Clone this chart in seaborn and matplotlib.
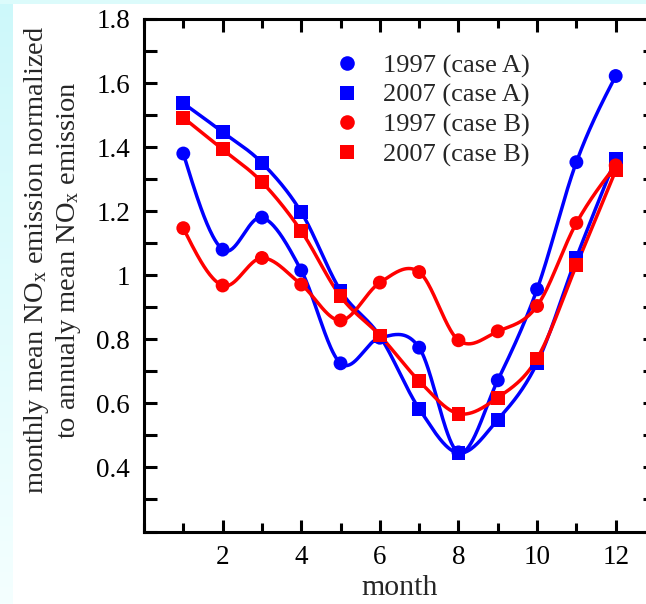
import numpy as np
import pandas as pd
import matplotlib
matplotlib.use("Agg")
import matplotlib.pyplot as plt
from matplotlib.lines import Line2D
from matplotlib.ticker import MultipleLocator
from matplotlib.colors import LinearSegmentedColormap
import seaborn as sns

# ---------------- data ----------------
months = [1, 2, 3, 4, 5, 6, 7, 8, 9, 10, 11, 12]
a1997 = [1.38, 1.08, 1.18, 1.015, 0.725, 0.805, 0.774, 0.447, 0.672, 0.956, 1.353, 1.622]
a2007 = [1.537, 1.447, 1.351, 1.197, 0.952, 0.81, 0.583, 0.445, 0.549, 0.726, 1.055, 1.364]
b1997 = [1.147, 0.968, 1.054, 0.971, 0.859, 0.977, 1.010, 0.797, 0.825, 0.904, 1.163, 1.343]
b2007 = [1.492, 1.393, 1.291, 1.138, 0.934, 0.812, 0.670, 0.568, 0.618, 0.740, 1.031, 1.327]
labels = ["1997 (case A)", "2007 (case A)", "1997 (case B)", "2007 (case B)"]
xtick_vals = [2, 4, 6, 8, 10, 12]
xtick_labels = ["2", "4", "6", "8", "10", "12"]
ytick_vals = [0.4, 0.6, 0.8, 1.0, 1.2, 1.4, 1.6, 1.8]
ytick_labels = ["0.4", "0.6", "0.8", "1", "1.2", "1.4", "1.6", "1.8"]


def smooth_curve(x, y, per=40):
    """Cubic Hermite (Catmull-Rom) curve through the data points."""
    x = np.asarray(x, float)
    y = np.asarray(y, float)
    n = len(x)
    m = np.zeros(n)
    for i in range(1, n - 1):
        m[i] = (y[i + 1] - y[i - 1]) / (x[i + 1] - x[i - 1])
    m[0] = 1.5 * (y[1] - y[0]) / (x[1] - x[0]) - 0.5 * m[1]
    m[-1] = 1.5 * (y[-1] - y[-2]) / (x[-1] - x[-2]) - 0.5 * m[-2]
    xs_all, ys_all = [], []
    for i in range(n - 1):
        h = x[i + 1] - x[i]
        t = np.linspace(0, 1, per, endpoint=(i == n - 2))
        h00 = 2 * t ** 3 - 3 * t ** 2 + 1
        h10 = t ** 3 - 2 * t ** 2 + t
        h01 = -2 * t ** 3 + 3 * t ** 2
        h11 = t ** 3 - t ** 2
        xs_all.append(x[i] + t * h)
        ys_all.append(h00 * y[i] + h10 * h * m[i] + h01 * y[i + 1] + h11 * h * m[i + 1])
    return np.concatenate(xs_all), np.concatenate(ys_all)


sns.set_theme(style="ticks")
plt.rcParams["font.family"] = ["Liberation Serif", "DejaVu Serif"]
plt.rcParams["mathtext.fontset"] = "custom"
plt.rcParams["mathtext.rm"] = "Liberation Serif"
plt.rcParams["mathtext.it"] = "Liberation Serif:italic"

fig = plt.figure(figsize=(6.46, 6.04), dpi=100, facecolor="white")

# light cyan frame strips
grad_ax = fig.add_axes([0, 0, 13 / 646, 1])
grad = np.linspace(0, 1, 256).reshape(-1, 1)
cm = LinearSegmentedColormap.from_list("c", ["#cdf8fa", "#f4ffff"])
grad_ax.imshow(grad, aspect="auto", cmap=cm, extent=[0, 1, 0, 1], origin="upper")
grad_ax.set_axis_off()
top_ax = fig.add_axes([0, 1 - 4 / 604, 1, 4 / 604])
top_ax.set_facecolor("#dcfbfb")
top_ax.set_xticks([]); top_ax.set_yticks([])
for s in top_ax.spines.values():
    s.set_visible(False)

ax = fig.add_axes([144 / 646, 1 - 531.5 / 604, 511 / 646, 512.5 / 604])
ax.set_facecolor("white")

series = [(a1997, "#0000ff", "o"), (a2007, "#0000ff", "s"),
          (b1997, "#ff0000", "o"), (b2007, "#ff0000", "s")]

for i, (vals, col, mk) in enumerate(series):
    xs, ys = smooth_curve(months, vals)
    sns.lineplot(x=xs, y=ys, color=col, lw=2.5, ax=ax, legend=False,
                 zorder=2 + i * 0.1, estimator=None, sort=False)
for i, (vals, col, mk) in enumerate(series):
    df = pd.DataFrame({"month": months, "v": vals})
    sns.scatterplot(data=df, x="month", y="v", color=col, marker=mk, s=100,
                    edgecolor="none", linewidth=0, ax=ax, legend=False,
                    zorder=3 + i * 0.1)

ax.set_xlim(0, 13)
ax.set_ylim(0.2, 1.8)
ax.set_xticks(xtick_vals)
ax.set_xticklabels(xtick_labels)
ax.set_yticks(ytick_vals)
ax.set_yticklabels(ytick_labels)
ax.xaxis.set_minor_locator(MultipleLocator(1))
ax.yaxis.set_minor_locator(MultipleLocator(0.1))
ax.tick_params(which="both", direction="in", top=True, right=True,
               width=2.2, colors="black", labelsize=19.5, pad=10)
ax.tick_params(which="major", length=9)
ax.tick_params(axis="x", which="minor", length=6.5)
ax.tick_params(axis="y", which="minor", length=9)
for s in ax.spines.values():
    s.set_linewidth(2.2)
    s.set_color("black")

ax.set_xlabel("month", fontsize=21.5, labelpad=3)
ax.set_ylabel("monthly mean NO$_\\mathrm{x}$ emission normalized\nto annualy mean NO$_\\mathrm{x}$ emission",
              fontsize=20.5, linespacing=1.15)
ax.yaxis.set_label_coords(-0.12, 0.53)

handles = [Line2D([], [], ls="none", marker=mk, color=col, markersize=10.5,
                  markeredgewidth=0) for (_, col, mk) in series]
ax.legend(handles, labels, loc="upper left", bbox_to_anchor=(0.372, 0.932),
          frameon=False, fontsize=19, handlelength=1.0, handletextpad=0.85,
          labelspacing=0.22, borderpad=0, borderaxespad=0)

fig.savefig("out.png", dpi=100, facecolor=fig.get_facecolor())
